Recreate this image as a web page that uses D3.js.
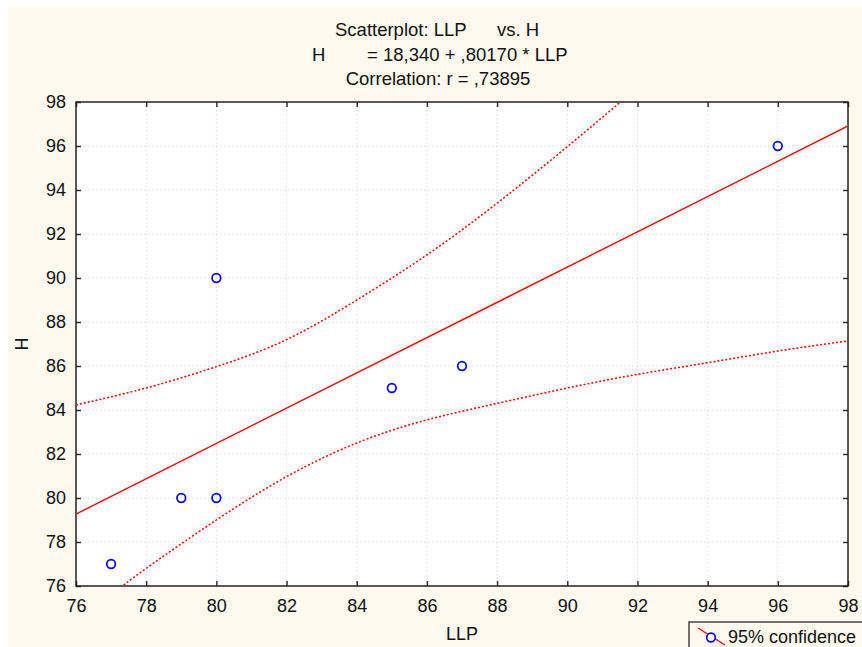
<!DOCTYPE html>
<html>
<head>
<meta charset="utf-8">
<title>Scatterplot: LLP vs. H</title>
<script src="https://cdnjs.cloudflare.com/ajax/libs/d3/7.8.5/d3.min.js"></script>
<style>
body { margin: 0; background: #ffffff; }
text { font-family: "Liberation Sans", Arial, sans-serif; fill: #111; }
</style>
</head>
<body>
<div id="chart"></div>
<script>
// data
var llp = [77, 79, 80, 80, 85, 87, 96];
var h   = [77, 80, 80, 90, 85, 86, 96];

// fitted line H = 18,340 + ,80170 * LLP, its two ends
var fitX = [76, 98];
var fitY = [79.27, 96.91];

// 95% confidence band
var upperX = [76, 78, 80, 82, 84, 86, 88, 90, 92];
var upperY = [84.23, 85.0, 85.97, 87.2, 89.0, 91.05, 93.4, 95.97, 98.65];
var lowerX = [77, 78, 80, 82, 84, 86, 88, 90, 92, 94, 96, 98];
var lowerY = [75.6, 76.8, 79.0, 80.97, 82.5, 83.55, 84.3, 85.0, 85.62, 86.15, 86.68, 87.14];

var xTicks = [76, 78, 80, 82, 84, 86, 88, 90, 92, 94, 96, 98];
var yTicks = [76, 78, 80, 82, 84, 86, 88, 90, 92, 94, 96, 98];

var width = 862, height = 647;
var pLeft = 76, pRight = 848, pTop = 102, pBottom = 586;
var fs = "18px";

var svg = d3.select("#chart").append("svg")
  .attr("width", width)
  .attr("height", height);

// cream page, white strip at top and left
svg.append("rect").attr("x", 8).attr("y", 7)
  .attr("width", width - 8).attr("height", height - 7)
  .attr("fill", "#fdf9ee");

var x = d3.scaleLinear().domain([76, 98]).range([pLeft, pRight]);
var y = d3.scaleLinear().domain([76, 98]).range([pBottom, pTop]);

svg.append("rect")
  .attr("x", pLeft).attr("y", pTop)
  .attr("width", pRight - pLeft).attr("height", pBottom - pTop)
  .attr("fill", "#fff");

svg.append("clipPath").attr("id", "plotclip")
  .append("rect")
  .attr("x", pLeft).attr("y", pTop)
  .attr("width", pRight - pLeft).attr("height", pBottom - pTop);

// dotted grid
var grid = svg.append("g");
grid.selectAll(".gx").data(xTicks.slice(1, -1)).enter().append("line")
  .attr("x1", d => x(d)).attr("x2", d => x(d))
  .attr("y1", pTop).attr("y2", pBottom)
  .attr("stroke", "#dcdcdc").attr("stroke-dasharray", "1.5,2.5");
grid.selectAll(".gy").data(yTicks.slice(1, -1)).enter().append("line")
  .attr("y1", d => y(d)).attr("y2", d => y(d))
  .attr("x1", pLeft).attr("x2", pRight)
  .attr("stroke", "#dcdcdc").attr("stroke-dasharray", "1.5,2.5");

// axes, ticks pointing inward
function styleAxis(g) {
  g.select(".domain").remove();
  g.selectAll(".tick line").attr("stroke", "#333").attr("stroke-width", 1.5);
  g.selectAll("text").style("font-size", fs)
    .style("font-family", "'Liberation Sans', Arial, sans-serif").attr("fill", "#111");
}

svg.append("g").attr("transform", "translate(0," + pBottom + ")")
  .call(d3.axisBottom(x).tickValues(xTicks).tickSizeInner(-5).tickSizeOuter(0).tickPadding(13))
  .call(styleAxis);
svg.append("g").attr("transform", "translate(" + pLeft + ",0)")
  .call(d3.axisLeft(y).tickValues(yTicks).tickSizeInner(-5).tickSizeOuter(0).tickPadding(10))
  .call(styleAxis);
svg.append("g").attr("transform", "translate(0," + pTop + ")")
  .call(d3.axisTop(x).tickValues(xTicks).tickSizeInner(-5).tickSizeOuter(0).tickFormat(""))
  .call(styleAxis);
svg.append("g").attr("transform", "translate(" + pRight + ",0)")
  .call(d3.axisRight(y).tickValues(yTicks).tickSizeInner(-5).tickSizeOuter(0).tickFormat(""))
  .call(styleAxis);

// frame
svg.append("rect")
  .attr("x", pLeft).attr("y", pTop)
  .attr("width", pRight - pLeft).attr("height", pBottom - pTop)
  .attr("fill", "none").attr("stroke", "#222").attr("stroke-width", 1.5);

var plot = svg.append("g").attr("clip-path", "url(#plotclip)");

var curve = d3.line().x(d => x(d[0])).y(d => y(d[1])).curve(d3.curveNatural);

plot.append("path")
  .attr("d", curve(d3.zip(upperX, upperY)))
  .attr("fill", "none").attr("stroke", "#ff0000")
  .attr("stroke-width", 1.5).attr("stroke-dasharray", "2,2");
plot.append("path")
  .attr("d", curve(d3.zip(lowerX, lowerY)))
  .attr("fill", "none").attr("stroke", "#ff0000")
  .attr("stroke-width", 1.5).attr("stroke-dasharray", "2,2");

plot.append("path")
  .attr("d", d3.line().x(d => x(d[0])).y(d => y(d[1]))(d3.zip(fitX, fitY)))
  .attr("fill", "none").attr("stroke", "#ff0000").attr("stroke-width", 1.4);

plot.selectAll(".pt").data(d3.zip(llp, h)).enter().append("circle")
  .attr("cx", d => x(d[0])).attr("cy", d => y(d[1]))
  .attr("r", 4.3).attr("fill", "none")
  .attr("stroke", "#0000ff").attr("stroke-width", 1.7);

// titles
var t = svg.append("g").style("font-size", "18.5px");
t.append("text").attr("x", 335).attr("y", 36).text("Scatterplot: LLP");
t.append("text").attr("x", 497).attr("y", 36).text("vs. H");
t.append("text").attr("x", 312).attr("y", 61).text("H");
t.append("text").attr("x", 367).attr("y", 61).text("= 18,340 + ,80170 * LLP");
t.append("text").attr("x", 438).attr("y", 85).attr("text-anchor", "middle")
  .text("Correlation: r = ,73895");

svg.append("text").attr("x", (pLeft + pRight) / 2).attr("y", 640)
  .attr("text-anchor", "middle").style("font-size", fs).text("LLP");
svg.append("text")
  .attr("transform", "translate(28," + ((pTop + pBottom) / 2) + ") rotate(-90)")
  .attr("text-anchor", "middle").style("font-size", fs).text("H");

// legend
var lg = svg.append("g");
lg.append("rect").attr("x", 689).attr("y", 622)
  .attr("width", 190).attr("height", 40)
  .attr("fill", "#fdf9ee").attr("stroke", "#444").attr("stroke-width", 1.5);
lg.append("line").attr("x1", 698).attr("y1", 628).attr("x2", 725).attr("y2", 645)
  .attr("stroke", "#ff0000").attr("stroke-width", 1.3);
lg.append("circle").attr("cx", 711).attr("cy", 637.5).attr("r", 4.3)
  .attr("fill", "#fdf9ee").attr("stroke", "#0000ff").attr("stroke-width", 1.7);
lg.append("text").attr("x", 728).attr("y", 643).style("font-size", fs).text("95% confidence");
</script>
</body>
</html>
